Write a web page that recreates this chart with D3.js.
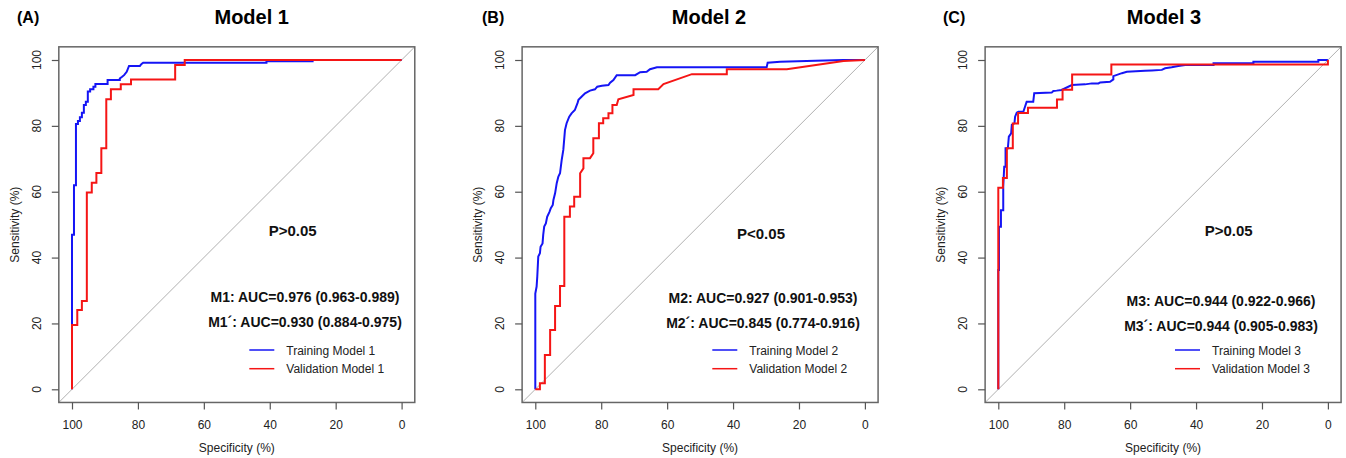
<!DOCTYPE html>
<html>
<head>
<meta charset="utf-8">
<script src="https://cdn.jsdelivr.net/npm/d3@7"></script>
<style>
  body { margin: 0; background: #fff; }
  svg { display: block; font-family: "Liberation Sans", Arial, sans-serif; }
</style>
</head>
<body>
<div id="chart"></div>
<script>
/* DATA */
const specTicks = [100, 80, 60, 40, 20, 0]
const sensTicks = [0, 20, 40, 60, 80, 100]

const tags = ["(A)", "(B)", "(C)"]
const titles = ["Model 1", "Model 2", "Model 3"]
const pTexts = ["P>0.05", "P<0.05", "P>0.05"]
const aucTrain = ["M1: AUC=0.976 (0.963-0.989)", "M2: AUC=0.927 (0.901-0.953)", "M3: AUC=0.944 (0.922-0.966)"]
const aucValid = ["M1´: AUC=0.930 (0.884-0.975)", "M2´: AUC=0.845 (0.774-0.916)", "M3´: AUC=0.944 (0.905-0.983)"]
const trainLabels = ["Training Model 1", "Training Model 2", "Training Model 3"]
const validLabels = ["Validation Model 1", "Validation Model 2", "Validation Model 3"]

// ROC vertices as [specificity, sensitivity] (%)
const m1Train = [[100,0],[100,46.9],[99.4,46.9],[99.4,62],[98.8,62],[98.8,80.6],[98.2,80.6],[98.2,81.5],[97.6,81.5],[97.6,82.6],[97,82.6],[97,84],[96.4,84],[96.4,86.3],[95.8,86.3],[95.8,87.3],[95.2,87.3],[95.2,90.4],[94.5,90.4],[94.5,91.1],[93.5,91.1],[93.5,91.9],[92.9,91.9],[92.9,92.7],[89.2,92.7],[89.2,93.9],[85.5,93.9],[85.5,94.4],[84.8,94.9],[84.2,95.4],[83.4,96.4],[82.7,98.2],[79.4,98.2],[78.9,98.8],[78.4,99.2],[41,99.2],[41,99.6],[27,99.6],[27,100],[0,100]]
const m1Valid = [[100,0],[100,19.5],[98.4,19.5],[98.4,24.1],[97,24.1],[97,26.8],[95.5,26.8],[95.5,59.8],[94,59.8],[94,62.7],[92.6,62.7],[92.6,65.7],[91.1,65.7],[91.1,73.2],[89.6,73.2],[89.6,88.1],[88.2,88.1],[88.2,91.1],[85.2,91.1],[85.2,92.6],[82.1,92.6],[82.1,94.1],[68.7,94.1],[68.7,98.5],[65.8,98.5],[65.8,100],[0,100]]

const m2Train = [[100,0],[100,29.1],[99.6,31.2],[99.4,34.2],[99.1,40.3],[98.6,41.3],[98.4,43.3],[97.8,44.3],[97.6,46.9],[97.3,49.4],[96.8,50.4],[96.4,52.4],[95.7,53.9],[95.3,55],[94.7,56],[94.5,57.5],[94,59.5],[93.5,62.6],[93,64.6],[92.5,65.6],[92,69.6],[91.5,72.7],[91,78.7],[90.5,80.8],[89.7,82.8],[89,83.8],[88,84.8],[87.2,86.9],[86.9,87.9],[85.9,88.9],[84.9,89.9],[83.4,90.7],[81.9,91.1],[81.2,91.9],[79.8,92.2],[77.8,92.4],[77.3,93.1],[76.3,93.9],[75.3,95.4],[69.7,95.4],[68.2,96.3],[66.2,96.4],[65.2,97.2],[63.1,97.8],[29.8,97.8],[29.5,99.2],[25.7,99.5],[15,99.8],[6.6,100],[0,100]]
const m2Valid = [[100,0],[98.6,0],[98.6,1.8],[97.1,1.8],[97.1,10.4],[95.5,10.4],[95.5,18],[94,18],[94,25.3],[92.5,25.3],[92.5,31.4],[91.2,31.4],[91.2,52.4],[89.5,52.4],[89.5,55.5],[88.2,55.5],[88.2,58.5],[86.4,58.5],[86.4,65.6],[85.4,67.1],[85.4,70.2],[83.4,70.2],[82.4,71.7],[82.4,76.2],[80.7,76.2],[80.7,80.8],[79.4,80.8],[79.4,82.3],[77.8,82.3],[77.8,83.8],[76.6,83.8],[76.6,86.3],[75.3,86.3],[74.8,88.1],[70.2,89.4],[70.2,91.1],[62.7,91.1],[61.1,92.7],[52.5,95.7],[41.9,95.7],[41.9,97.2],[23.7,97.2],[6.5,99.7],[0,100]]

const m3Train = [[100,0],[100,36.2],[99.8,36.2],[99.8,49.4],[99.2,49.4],[99.2,54.4],[98.5,54.4],[98.5,61.5],[98.2,67.6],[97.8,67.6],[97.8,73.2],[97.1,73.2],[96.8,76.7],[96.1,77.7],[95.9,80.3],[95.1,80.8],[94.9,82.8],[94.4,84],[93.9,84.3],[92.4,84.3],[91.9,85.8],[91.4,87.3],[89.4,87.3],[89.1,89.9],[83.8,90.1],[83.3,90.6],[82.3,90.7],[80.8,90.9],[77.7,92.4],[73.7,92.6],[71.6,92.9],[69.6,92.9],[69.1,93.2],[66.1,93.4],[65.1,94.1],[65.1,95.1],[62.5,96],[61,96.4],[55.5,96.7],[53.4,96.8],[50.4,97],[49.4,97.5],[47.4,97.8],[45.4,98.2],[43.3,98.5],[34.7,98.5],[34.7,99],[22.6,99],[22.6,99.5],[2.9,99.5],[2.9,100],[0,100]]
const m3Valid = [[100,0],[100,61.2],[98.6,61.2],[98.6,64.2],[97.4,64.2],[97.4,73.2],[95.6,73.2],[95.6,80.7],[94,80.7],[94,83.9],[91,83.9],[91,85.5],[82.2,85.5],[82.2,88],[80.5,88],[80.5,91],[77.6,91],[77.6,95.6],[65.7,95.6],[65.7,98.6],[0,98.6],[0,100]]

const trainCurves = [m1Train, m2Train, m3Train]
const validCurves = [m1Valid, m2Valid, m3Valid]

/* LAYOUT */
const width = 1346
const height = 458
const blue = "#1515f5"
const red = "#f51515"
const x100 = [72, 535.3, 998.3]     // pixel of specificity 100 in each panel
const span = 329.6                  // pixels from 100 to 0
const yTop = 60, yBottom = 389.3
const tagX = [17, 482, 943]
const titleX = [251.7, 709, 1164]
const pX = [292.7, 761, 1228.7]
const pY = [236.4, 239.4, 236]
const aucX = [305, 763, 1221]
const aucY = [301.7, 303.3, 305.7]
const legX = [249.3, 712.3, 1175]

const svg = d3.select("#chart")
  .append("svg")
  .attr("width", width)
  .attr("height", height)

d3.range(3).forEach(i => {
  const xScale = d3.scaleLinear().domain([100, 0]).range([x100[i], x100[i] + span])
  const yScale = d3.scaleLinear().domain([0, 100]).range([yBottom, yTop])

  // R style box: 4% beyond the data range
  const bx0 = xScale(104), bx1 = xScale(-4)
  const by0 = yScale(104), by1 = yScale(-4)

  const g = svg.append("g")

  const clipId = "clip" + i
  g.append("clipPath").attr("id", clipId)
    .append("rect")
    .attr("x", bx0).attr("y", by0)
    .attr("width", bx1 - bx0).attr("height", by1 - by0)

  // diagonal reference
  g.append("line")
    .attr("clip-path", `url(#${clipId})`)
    .attr("x1", xScale(104)).attr("y1", yScale(-4))
    .attr("x2", xScale(-4)).attr("y2", yScale(104))
    .attr("stroke", "#b0b0b0")
    .attr("stroke-width", 1)

  const line = d3.line()
    .x(d => xScale(d[0]))
    .y(d => yScale(d[1]))

  g.append("path")
    .datum(trainCurves[i])
    .attr("d", line)
    .attr("fill", "none")
    .attr("stroke", blue)
    .attr("stroke-width", 2)

  g.append("path")
    .datum(validCurves[i])
    .attr("d", line)
    .attr("fill", "none")
    .attr("stroke", red)
    .attr("stroke-width", 2)

  // box
  g.append("rect")
    .attr("x", bx0).attr("y", by0)
    .attr("width", bx1 - bx0).attr("height", by1 - by0)
    .attr("fill", "none")
    .attr("stroke", "#666")
    .attr("stroke-width", 1.5)

  // x axis
  const xAxis = g.append("g")
    .attr("transform", `translate(0,${by1})`)
    .call(d3.axisBottom(xScale).tickValues(specTicks).tickSize(7).tickPadding(11))
  xAxis.select(".domain").remove()
  xAxis.selectAll("line").attr("stroke", "#555").attr("stroke-width", 1.2)
  xAxis.selectAll("text")
    .attr("font-size", 12)
    .attr("font-family", "Liberation Sans, Arial, sans-serif")
    .attr("fill", "#222")

  // y axis, labels parallel to the axis
  const yAxis = g.append("g")
    .attr("transform", `translate(${bx0},0)`)
    .call(d3.axisLeft(yScale).tickValues(sensTicks).tickSize(7).tickFormat(""))
  yAxis.select(".domain").remove()
  yAxis.selectAll("line").attr("stroke", "#555").attr("stroke-width", 1.2)

  g.append("g")
    .selectAll("text")
    .data(sensTicks)
    .join("text")
    .attr("transform", d => `translate(${bx0 - 18},${yScale(d)}) rotate(-90)`)
    .attr("text-anchor", "middle")
    .attr("font-size", 12)
    .attr("fill", "#222")
    .text(d => d)

  // axis titles
  g.append("text")
    .attr("x", (bx0 + bx1) / 2)
    .attr("y", 452)
    .attr("text-anchor", "middle")
    .attr("font-size", 12)
    .attr("fill", "#222")
    .text("Specificity (%)")

  g.append("text")
    .attr("transform", `translate(${bx0 - 40},${(by0 + by1) / 2}) rotate(-90)`)
    .attr("text-anchor", "middle")
    .attr("font-size", 12)
    .attr("fill", "#222")
    .text("Sensitivity (%)")

  // tag and title
  g.append("text")
    .attr("x", tagX[i]).attr("y", 23)
    .attr("font-size", 16)
    .attr("font-weight", "bold")
    .text(tags[i])

  g.append("text")
    .attr("x", titleX[i]).attr("y", 24)
    .attr("text-anchor", "middle")
    .attr("font-size", 20)
    .attr("font-weight", "bold")
    .text(titles[i])

  // annotations
  g.append("text")
    .attr("x", pX[i]).attr("y", pY[i])
    .attr("text-anchor", "middle")
    .attr("font-size", 15)
    .attr("font-weight", "bold")
    .attr("fill", "#111")
    .text(pTexts[i])

  g.append("text")
    .attr("x", aucX[i]).attr("y", aucY[i])
    .attr("text-anchor", "middle")
    .attr("font-size", 14)
    .attr("font-weight", "bold")
    .attr("fill", "#111")
    .text(aucTrain[i])

  g.append("text")
    .attr("x", aucX[i]).attr("y", aucY[i] + 25)
    .attr("text-anchor", "middle")
    .attr("font-size", 14)
    .attr("font-weight", "bold")
    .attr("fill", "#111")
    .text(aucValid[i])

  // legend
  const legend = g.append("g")
  const legRows = [[trainLabels[i], blue], [validLabels[i], red]]
  legRows.forEach((r, k) => {
    const ly = 350 + k * 18.7
    legend.append("line")
      .attr("x1", legX[i]).attr("x2", legX[i] + 25)
      .attr("y1", ly).attr("y2", ly)
      .attr("stroke", r[1])
      .attr("stroke-width", 1.5)
    legend.append("text")
      .attr("x", legX[i] + 37)
      .attr("y", ly + 4.5)
      .attr("font-size", 12)
      .attr("fill", "#222")
      .text(r[0])
  })
})
</script>
</body>
</html>
